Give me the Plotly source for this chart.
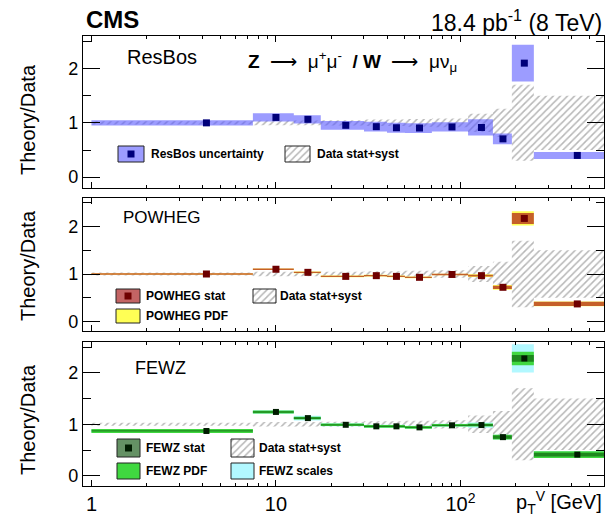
import numpy as np
import plotly.graph_objects as go

# ---- binning in boson pT (GeV) and mean pT of each bin ----
pt_edges = [1, 7.5, 12.5, 17.5, 30, 40, 50, 70, 110, 150, 190, 250, 600]
pt_mean = [4.2, 10.0, 14.9, 23.9, 35.0, 45.0, 60.0, 90.0, 130.0, 170.0, 222.0, 430.0]

# ---- data total uncertainty (relative, band around 1) ----
data_unc = [0.03, 0.045, 0.045, 0.05, 0.06, 0.06, 0.07, 0.08, 0.17, 0.26, 0.70, 0.50]

# ---- ResBos / data ----
resbos = [1.00, 1.10, 1.065, 0.955, 0.93, 0.91, 0.905, 0.925, 0.915, 0.705, 2.10, 0.40]
resbos_unc = [0.05, 0.075, 0.075, 0.08, 0.09, 0.09, 0.09, 0.085, 0.15, 0.10, 0.34, 0.065]

# ---- POWHEG / data ----
powheg = [1.00, 1.10, 1.035, 0.95, 0.965, 0.95, 0.93, 0.99, 0.965, 0.72, 2.17, 0.37]
powheg_stat = [0.014, 0.014, 0.014, 0.014, 0.014, 0.014, 0.014, 0.014, 0.02, 0.035, 0.115, 0.045]
powheg_pdf = [0.017, 0.017, 0.017, 0.017, 0.017, 0.017, 0.017, 0.017, 0.03, 0.05, 0.15, 0.05]

# ---- FEWZ / data ----
fewz = [0.87, 1.24, 1.12, 0.99, 0.96, 0.96, 0.94, 0.98, 0.985, 0.75, 2.28, 0.41]
fewz_stat = [0.012, 0.015, 0.015, 0.012, 0.012, 0.012, 0.012, 0.012, 0.02, 0.03, 0.065, 0.035]
fewz_pdf = [0.04, 0.03, 0.025, 0.025, 0.025, 0.025, 0.025, 0.025, 0.03, 0.045, 0.13, 0.065]
fewz_scale = [0.04, 0.035, 0.045, 0.03, 0.03, 0.03, 0.03, 0.03, 0.05, 0.045, 0.275, 0.065]

x_ticks = [1, 10, 100]
x_ticktext = ["1", "10", "10<sup>2</sup>"]
y_ticks = [0, 1, 2]

# ---- canvas geometry ----
W, H = 605, 520
L, R, T, B = 83, 1, 36, 34
X_RANGE = [np.log10(0.9), np.log10(600)]
Y_RANGE = [-0.2, 2.6]
PANELS = [(36, 188), (198, 331), (342, 486)]  # pixel top/bottom of each pad
FONT = "Liberation Sans, Arial, Helvetica, sans-serif"

HATCH = dict(shape="/", fgcolor="#707070", bgcolor="rgba(0,0,0,0)", size=5, solidity=0.3)


def dom(p):
    y0, y1 = PANELS[p]
    return [(H - B - y1) / (H - T - B), (H - B - y0) / (H - T - B)]


def px_x(px):
    f = (px - L) / (W - L - R)
    return 10 ** (X_RANGE[0] + f * (X_RANGE[1] - X_RANGE[0]))


def py_y(py, p):
    y0, y1 = PANELS[p]
    f = (y1 - py) / (y1 - y0)
    return Y_RANGE[0] + f * (Y_RANGE[1] - Y_RANGE[0])


def pap_x(px):
    return (px - L) / (W - L - R)


def pap_y(py):
    return (H - B - py) / (H - T - B)


def axes(p):
    s = "" if p == 0 else str(p + 1)
    return "x" + s, "y" + s


def rect_path(x0s, x1s, lows, highs):
    xs, ys = [], []
    for x0, x1, lo, hi in zip(x0s, x1s, lows, highs):
        xs += [x0, x1, x1, x0, x0, None]
        ys += [lo, lo, hi, hi, lo, None]
    return xs, ys


def band(p, centers, halves, color=None, pattern=None):
    xa, ya = axes(p)
    xs, ys = rect_path(pt_edges[:-1], pt_edges[1:],
                       [c - h for c, h in zip(centers, halves)],
                       [c + h for c, h in zip(centers, halves)])
    kw = dict(x=xs, y=ys, mode="none", fill="toself", xaxis=xa, yaxis=ya,
              hoverinfo="skip", showlegend=False)
    if pattern is not None:
        kw["fillcolor"] = "rgba(255,255,255,0)"
        kw["fillpattern"] = pattern
    else:
        kw["fillcolor"] = color
    return go.Scatter(**kw)


def markers(p, vals, color, size=7):
    xa, ya = axes(p)
    return go.Scatter(x=pt_mean, y=vals, mode="markers", xaxis=xa, yaxis=ya,
                      marker=dict(symbol="square", size=size, color=color,
                                  line=dict(width=0)),
                      hoverinfo="skip", showlegend=False)


def swatch(p, x0, x1, y0, y1, color=None, pattern=None, mark=None):
    """Legend entry box drawn at pixel position (x0..x1, y0..y1)."""
    xa, ya = axes(p)
    X0, X1 = px_x(x0), px_x(x1)
    Y0, Y1 = py_y(y1, p), py_y(y0, p)
    xs = [X0, X1, X1, X0, X0]
    ys = [Y0, Y0, Y1, Y1, Y0]
    kw = dict(x=xs, y=ys, mode="lines", fill="toself", xaxis=xa, yaxis=ya,
              line=dict(color="#222", width=1), hoverinfo="skip", showlegend=False)
    if pattern is not None:
        kw["fillcolor"] = "rgba(255,255,255,0)"
        kw["fillpattern"] = pattern
    else:
        kw["fillcolor"] = color
    out = [go.Scatter(**kw)]
    if mark is not None:
        out.append(go.Scatter(x=[px_x((x0 + x1) / 2)], y=[py_y((y0 + y1) / 2, p)],
                              mode="markers", xaxis=xa, yaxis=ya,
                              marker=dict(symbol="square", size=7, color=mark),
                              hoverinfo="skip", showlegend=False))
    return out


RESBOS_FILL = "rgba(90,90,255,0.6)"
POW_PDF = "#ffff55"
POW_STAT = "rgba(175,35,25,0.72)"
FEWZ_SCALE = "#b2f8ff"
FEWZ_PDF = "#40d840"
FEWZ_STAT = "rgba(0,70,0,0.55)"
ones = [1.0] * len(data_unc)

traces = []
# ResBos pad
traces.append(band(0, ones, data_unc, pattern=HATCH))
traces.append(band(0, resbos, resbos_unc, color=RESBOS_FILL))
traces.append(markers(0, resbos, "#00007a"))
# POWHEG pad
traces.append(band(1, ones, data_unc, pattern=HATCH))
traces.append(band(1, powheg, powheg_pdf, color=POW_PDF))
traces.append(band(1, powheg, powheg_stat, color=POW_STAT))
traces.append(markers(1, powheg, "#6e0000"))
# FEWZ pad
traces.append(band(2, ones, data_unc, pattern=HATCH))
traces.append(band(2, fewz, fewz_scale, color=FEWZ_SCALE))
traces.append(band(2, fewz, fewz_pdf, color=FEWZ_PDF))
traces.append(band(2, fewz, fewz_stat, color=FEWZ_STAT))
traces.append(markers(2, fewz, "#001c00", size=6))

# legend boxes
traces += swatch(0, 118, 144, 146, 162, color=RESBOS_FILL, mark="#00007a")
traces += swatch(0, 285, 310, 146, 162, pattern=HATCH)
traces += swatch(1, 116, 140, 289, 303, color="rgb(195,100,100)", mark="#6e0000")
traces += swatch(1, 116, 140, 309, 323, color=POW_PDF)
traces += swatch(1, 253, 276, 289, 303, pattern=HATCH)
traces += swatch(2, 117, 140, 439, 457, color="rgb(100,145,100)", mark="#001c00")
traces += swatch(2, 117, 140, 463, 479, color=FEWZ_PDF)
traces += swatch(2, 231, 254, 439, 457, pattern=HATCH)
traces += swatch(2, 231, 254, 463, 479, color=FEWZ_SCALE)

fig = go.Figure(traces)

minor_x = [2, 3, 4, 5, 6, 7, 8, 9, 20, 30, 40, 50, 60, 70, 80, 90,
           200, 300, 400, 500, 600]
for p in range(3):
    s = "" if p == 0 else str(p + 1)
    fig.update_layout(**{
        "xaxis" + s: dict(
            type="log", range=X_RANGE, domain=[0, 1], anchor="y" + s,
            showline=True, linecolor="black", linewidth=1.2, mirror="allticks",
            ticks="inside", ticklen=6, tickwidth=1, tickcolor="black",
            tickmode="array", tickvals=x_ticks, ticktext=x_ticktext,
            showticklabels=(p == 2), showgrid=False, zeroline=False,
            tickfont=dict(family=FONT, size=20, color="black"),
            minor=dict(tickmode="array", tickvals=minor_x, ticks="inside",
                       ticklen=3, tickcolor="black", showgrid=False),
        ),
        "yaxis" + s: dict(
            range=Y_RANGE, domain=dom(p), anchor="x" + s,
            showline=True, linecolor="black", linewidth=1.2, mirror="allticks",
            ticks="inside", ticklen=17, tickwidth=1, tickcolor="black",
            tickmode="array", tickvals=y_ticks, showgrid=False, zeroline=False,
            tickfont=dict(family=FONT, size=18, color="black"),
            minor=dict(tickmode="array", tickvals=[-0.0001 + v for v in [0.5, 1.5, 2.5]],
                       ticks="inside", ticklen=8, tickcolor="black", showgrid=False),
        ),
    })

ann = []


def text(px, py, s, size, xanchor="left", bold=False, angle=0, color="black"):
    ann.append(dict(x=pap_x(px), y=pap_y(py), xref="paper", yref="paper",
                    text=("<b>%s</b>" % s) if bold else s, showarrow=False,
                    xanchor=xanchor, yanchor="middle", textangle=angle,
                    font=dict(family=FONT, size=size, color=color)))


NB = "&nbsp;"
text(84, 20, "CMS", 24, bold=True)
text(604, 21, "18.4 pb<sup>-1</sup> (8 TeV)", 23, xanchor="right")
text(125, 57, "ResBos", 20)
text(246, 61,
     "<b>Z</b>" + NB * 2 + "⟶" + NB * 2 + "μ<sup>+</sup>μ<sup>-</sup>" + NB * 2
     + "<b>/" + NB + "W</b>" + NB * 2 + "⟶" + NB * 2 + "μν<sub>μ</sub>", 19)
text(121, 217, "POWHEG", 17)
text(133, 368, "FEWZ", 18)
for cy in (120, 266, 420):
    text(28, cy, "Theory/Data", 20, xanchor="center", angle=-90)
text(149, 154, "ResBos uncertainty", 12, bold=True)
text(315, 154, "Data stat+syst", 12, bold=True)
text(144, 296, "POWHEG stat", 12, bold=True)
text(144, 316, "POWHEG PDF", 12, bold=True)
text(278, 296, "Data stat+syst", 12, bold=True)
text(144, 448, "FEWZ stat", 12, bold=True)
text(144, 471, "FEWZ PDF", 12, bold=True)
text(257, 448, "Data stat+syst", 12, bold=True)
text(257, 471, "FEWZ scales", 12, bold=True)
text(604, 503, "p<sub>T</sub><sup>V</sup> [GeV]", 20, xanchor="right")

fig.update_layout(
    width=W, height=H,
    margin=dict(l=L, r=R, t=T, b=B, pad=0),
    paper_bgcolor="white", plot_bgcolor="white",
    showlegend=False, annotations=ann,
    font=dict(family=FONT, color="black"),
)

fig.write_html("out.html")
